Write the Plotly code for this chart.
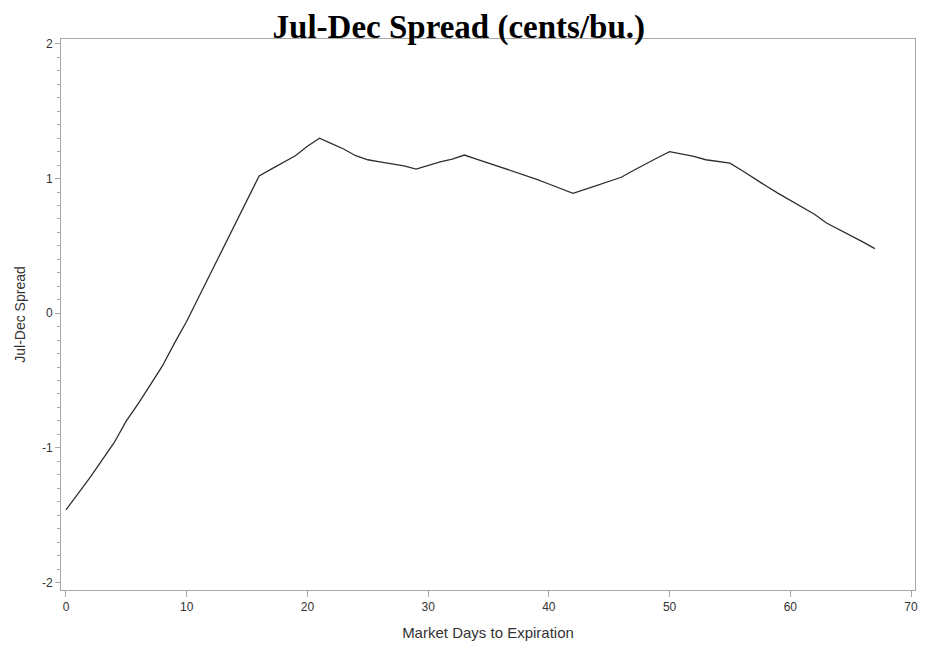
import plotly.graph_objects as go

days = list(range(68))
spread = [
    -1.46, -1.34, -1.22, -1.09, -0.96, -0.80, -0.67, -0.53, -0.39, -0.22,
    -0.06, 0.12, 0.30, 0.48, 0.67, 0.84, 1.02, 1.07, 1.12, 1.17,
    1.24, 1.30, 1.26, 1.22, 1.17, 1.14, 1.125, 1.11, 1.095, 1.07,
    1.10, 1.125, 1.145, 1.175, 1.145, 1.115, 1.085, 1.055, 1.03, 0.995,
    0.96, 0.925, 0.89, 0.92, 0.95, 0.98, 1.01, 1.06, 1.11, 1.155,
    1.20, 1.185, 1.165, 1.14, 1.125, 1.115, 1.06, 1.00, 0.945, 0.89,
    0.84, 0.79, 0.735, 0.67, 0.625, 0.575, 0.53, 0.48,
]
x_ticks = [0, 10, 20, 30, 40, 50, 60, 70]
y_ticks = [-2, -1, 0, 1, 2]
y_tick_labels = ["-2", "-1", "0", "1", "2"]

fig = go.Figure()
fig.add_trace(go.Scatter(
    x=days, y=spread, mode="lines",
    line=dict(color="#2e2e2e", width=1.3),
    showlegend=False, hoverinfo="x+y",
))

axis_common = dict(
    showgrid=False, zeroline=False,
    showline=True, mirror=True, linecolor="#a8a8a8", linewidth=1,
    ticks="outside", tickcolor="#a8a8a8", tickwidth=1,
    tickfont=dict(family="Liberation Sans, Arial, sans-serif", size=12, color="#333333"),
)

fig.update_layout(
    width=925, height=648,
    margin=dict(l=61, r=7, t=39, b=58),
    paper_bgcolor="white", plot_bgcolor="white",
    title=dict(
        text="<b>Jul-Dec Spread (cents/bu.)</b>",
        font=dict(family="Liberation Serif, Times New Roman, serif", size=33, color="black"),
        x=0.496, xanchor="center", xref="container",
        y=1 - 26 / 648, yanchor="middle", yref="container",
    ),
    xaxis=dict(
        **axis_common,
        ticklen=6,
        range=[-0.413, 70.33],
        tickvals=x_ticks,
        title=dict(text="Market Days to Expiration",
                   font=dict(family="Liberation Sans, Arial, sans-serif", size=15, color="#333333"),
                   standoff=14),
    ),
    yaxis=dict(
        **axis_common,
        ticklen=5,
        range=[-2.056, 2.037],
        tickvals=y_ticks,
        ticktext=y_tick_labels,
        minor=dict(dtick=0.1, ticks="outside", ticklen=3, tickcolor="#a8a8a8", showgrid=False),
        title=dict(text="Jul-Dec Spread",
                   font=dict(family="Liberation Sans, Arial, sans-serif", size=14, color="#333333"),
                   standoff=13),
    ),
)

# remove the browser's default body margin so the 925x648 figure fills the window exactly
fig.write_html(
    "out.html",
    config={"displayModeBar": False},
    post_script="document.body.style.margin='0';document.body.style.overflow='hidden';",
)
